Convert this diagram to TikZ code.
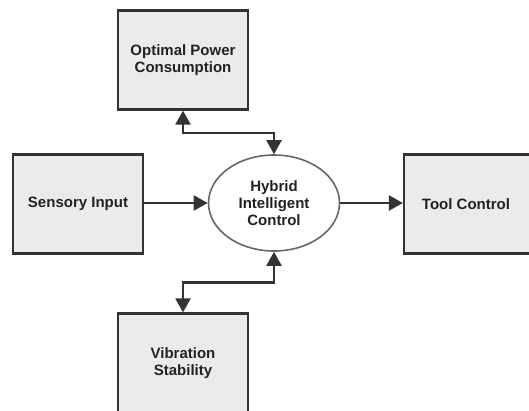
\documentclass[tikz,border=0pt]{standalone}
\usepackage{fontspec}
\setmainfont{Liberation Sans}
\usetikzlibrary{arrows.meta,shapes.geometric}
\definecolor{boxfill}{HTML}{EBEBEB}
\definecolor{boxline}{HTML}{333333}
\definecolor{ellline}{HTML}{666666}
\definecolor{txt}{HTML}{222222}
\begin{document}
\begin{tikzpicture}[x=1pt,y=-1pt,
  lbl/.style={align=center, font=\bfseries\fontsize{15}{17}\selectfont, text=txt},
  box/.style={lbl, draw=boxline, fill=boxfill, line width=2.2pt, minimum width=130pt, minimum height=99pt, inner sep=0pt},
  hub/.style={lbl, ellipse, draw=ellline, fill=white, line width=1.6pt, minimum width=131pt, minimum height=96pt, inner sep=0pt},
  conn/.style={draw=boxline, line width=2.2pt, -{Triangle[width=15pt,length=14pt]}},
  biconn/.style={draw=boxline, line width=2.2pt, {Triangle[width=15pt,length=14pt]}-{Triangle[width=15pt,length=14pt]}}
]
\useasboundingbox (0,0) rectangle (529,410);
\clip (0,0) rectangle (529,410);
\node[box] (opc) at (183,60) {Optimal Power\\Consumption};
\node[box] (sens) at (78,204) {Sensory Input};
\node[box] (tool) at (469,204) {\hspace*{-6pt}Tool Control};
\node[box] (vib) at (183,363) {Vibration\\Stability};
\node[hub] (hic) at (274,203) {Hybrid\\Intelligent\\Control};
\draw[conn] (sens.east |- hic.west) -- (hic.west);
\draw[conn] (hic.east) -- (tool.west |- hic.east);
\draw[biconn] (opc.south) -- ++(0,22) -| (hic.north);
\draw[biconn] (vib.north) -- ++(0,-30) -| (hic.south);
\end{tikzpicture}
\end{document}
